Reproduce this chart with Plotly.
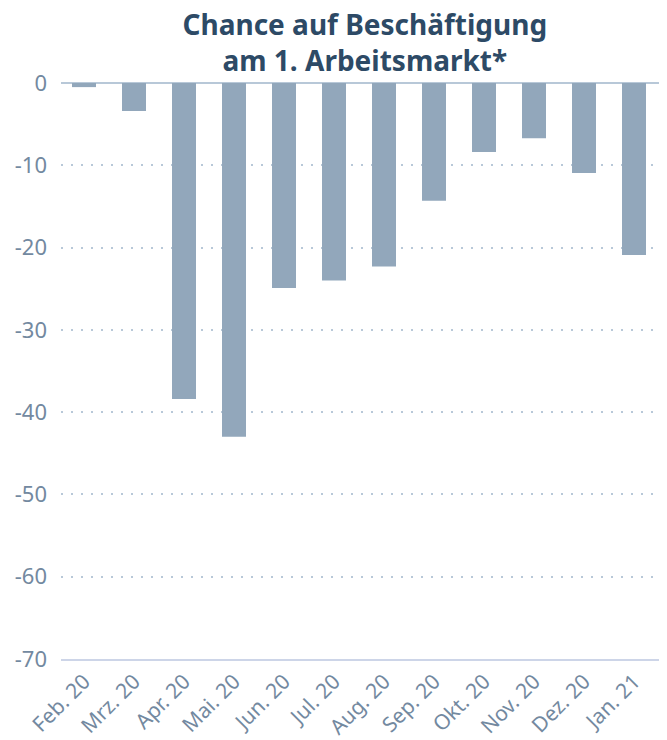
import plotly.graph_objects as go

months = ["Feb. 20", "Mrz. 20", "Apr. 20", "Mai. 20", "Jun. 20", "Jul. 20",
          "Aug. 20", "Sep. 20", "Okt. 20", "Nov. 20", "Dez. 20", "Jan. 21"]
values = [-0.5, -3.4, -38.4, -43.0, -24.9, -24.0, -22.3, -14.3, -8.4, -6.7, -10.95, -20.9]
y_ticks = [0, -10, -20, -30, -40, -50, -60, -70]

fig = go.Figure(go.Bar(x=months, y=values, marker=dict(color="#92a7bb", line=dict(width=0)),
                       width=0.48))

fig.update_layout(
    width=667, height=740,
    margin=dict(l=61, r=8, t=83, b=81, autoexpand=False),
    plot_bgcolor="white", paper_bgcolor="white",
    font=dict(family="Noto Sans", color="#7389a0", size=20),
    title=dict(text="<b>Chance auf Beschäftigung<br>am 1. Arbeitsmarkt*</b>",
               x=0.547, xanchor="center", xref="container",
               y=0.953, yanchor="top", yref="container", automargin=False,
               font=dict(size=28, color="#2d4a66", family="Noto Sans")),
    bargap=0.52,
    showlegend=False,
)
fig.update_xaxes(showgrid=False, tickangle=-45, showline=True, linecolor="#cdd5e8", linewidth=2,
                 ticks="", tickfont=dict(size=21), range=[-0.46, 11.5], automargin=False)
fig.update_yaxes(range=[-70, 0], tickvals=y_ticks, ticktext=[str(v) for v in y_ticks],
                 showgrid=True, gridcolor="#b8c8d8", griddash="2px,8px", gridwidth=2,
                 zeroline=True, zerolinecolor="#b8c8d8", zerolinewidth=2,
                 ticks="", ticklabelstandoff=13, tickfont=dict(size=22), automargin=False)

fig.write_html("out.html", config={"displayModeBar": False},
               post_script="document.body.style.margin='0';document.body.style.overflow='hidden';")
